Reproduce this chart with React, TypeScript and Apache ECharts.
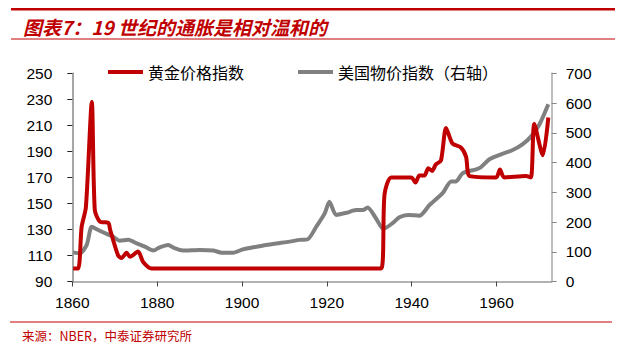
import React, { useEffect, useRef } from "react";
import * as echarts from "echarts";

// 黄金价格指数 (left axis)
const goldYears = [1860.2, 1861.4, 1862.2, 1863.2, 1864.6, 1865.3, 1866.5, 1868.5, 1868.9, 1870.8, 1871.6, 1872.8, 1873.6, 1875.5, 1876.7, 1878.7, 1900, 1932.8, 1933.6, 1935.2, 1939.9, 1940.9, 1941.8, 1943.0, 1943.9, 1944.8, 1945.7, 1946.9, 1948.1, 1949.6, 1951.6, 1952.8, 1953.7, 1959.9, 1960.8, 1961.8, 1966.9, 1968.1, 1968.9, 1970.9, 1972.2];
const goldValues = [100, 100, 132, 147, 228, 145, 136, 135, 130, 110, 108, 112, 109, 113, 105, 100, 100, 100, 157, 170, 170, 166, 171.5, 171.5, 177, 175, 180, 183, 208, 196, 193, 186, 171, 170, 176, 170, 171, 170, 211, 187, 216];

// 美国物价指数 (right axis)
const cpiYears = [1860.2, 1861.8, 1863.4, 1864.6, 1866.1, 1868.1, 1869.6, 1871.2, 1873.2, 1875.2, 1877.1, 1879.1, 1880.6, 1882.6, 1884.1, 1886.1, 1890.0, 1893.2, 1895.2, 1897.9, 1900.2, 1903.4, 1905.7, 1908.1, 1911.2, 1913.6, 1915.5, 1917.5, 1919.5, 1920.6, 1922.2, 1924.6, 1926.9, 1928.5, 1929.6, 1931.6, 1933.3, 1935.5, 1937.1, 1939.1, 1941.8, 1944.2, 1947.3, 1949.3, 1950.4, 1952.0, 1955.2, 1956.3, 1958.3, 1960.6, 1963.8, 1966.1, 1968.1, 1970.1, 1972.2];
const cpiValues = [98, 95, 123, 184, 173, 160, 151, 137, 140, 128, 117, 104, 115, 123, 112, 104, 106, 104, 97, 97, 108, 117, 123, 128, 134, 140, 142, 184, 229, 268, 224, 231, 240, 240, 249, 212, 177, 196, 216, 224, 221, 257, 297, 336, 336, 364, 377, 384, 411, 425, 442, 461, 487, 528, 596];

const leftTicks = { min: 90, max: 250, interval: 20 };
const rightTicks = { min: 0, max: 700, interval: 100 };
const xTicks = { min: 1860, max: 1973, interval: 20 };

const TITLE = "图表7：19 世纪的通胀是相对温和的";
const SOURCE = "来源：NBER，中泰证券研究所";
const NAME_GOLD = "黄金价格指数";
const NAME_CPI = "美国物价指数（右轴）";

const RED = "#C00000";
const GREY = "#808080";
const NUM_FONT = "'Liberation Sans', Arial, sans-serif";
const CJK_FONT = "'Noto Sans CJK SC', sans-serif";

export default function App() {
  const ref = useRef<HTMLDivElement>(null);
  useEffect(() => {
    if (!ref.current) return;
    const chart = echarts.init(ref.current, null, { renderer: "svg" });
    const gold = goldYears.map((y, i) => [y, goldValues[i]]);
    const cpi = cpiYears.map((y, i) => [y, cpiValues[i]]);
    const axisLabel = { color: "#000", fontSize: 15.5, fontFamily: NUM_FONT };
    chart.setOption({
      animation: false,
      backgroundColor: "#fff",
      grid: { left: 72.3, right: 74.3, top: 73.3, bottom: 72.5, containLabel: false },
      legend: {
        left: 103,
        top: 59,
        itemWidth: 35,
        itemHeight: 4,
        itemGap: 54,
        icon: "rect",
        textStyle: { fontSize: 16, fontFamily: CJK_FONT, color: "#000" },
        data: [NAME_GOLD, NAME_CPI],
      },
      xAxis: {
        type: "value",
        min: xTicks.min,
        max: xTicks.max,
        interval: xTicks.interval,
        splitLine: { show: false },
        axisLine: { lineStyle: { color: "#999", width: 1.5 } },
        axisTick: { length: 5, lineStyle: { color: "#444" } },
        axisLabel: { ...axisLabel, margin: 13, showMaxLabel: false, formatter: (v: number) => String(v) },
      },
      yAxis: [
        {
          type: "value",
          min: leftTicks.min,
          max: leftTicks.max,
          interval: leftTicks.interval,
          splitLine: { show: false },
          axisLine: { show: true, lineStyle: { color: "#888", width: 1.5 } },
          axisTick: { show: true, length: 5, lineStyle: { color: "#222" } },
          axisLabel: { ...axisLabel, margin: 20 },
        },
        {
          type: "value",
          position: "right",
          min: rightTicks.min,
          max: rightTicks.max,
          interval: rightTicks.interval,
          splitLine: { show: false },
          axisLine: { show: true, lineStyle: { color: "#aaa", width: 1.5 } },
          axisTick: { show: true, length: 5, lineStyle: { color: "#888" } },
          axisLabel: { ...axisLabel, margin: 14 },
        },
      ],
      series: [
        {
          name: NAME_CPI,
          type: "line",
          yAxisIndex: 1,
          data: cpi,
          showSymbol: false,
          smooth: 0.25,
          lineStyle: { color: GREY, width: 4 },
          itemStyle: { color: GREY },
          z: 2,
        },
        {
          name: NAME_GOLD,
          type: "line",
          yAxisIndex: 0,
          data: gold,
          showSymbol: false,
          smooth: 0.25,
          lineStyle: { color: RED, width: 4 },
          itemStyle: { color: RED },
          z: 3,
        },
      ],
      graphic: [
        { type: "rect", shape: { x: 11, y: 8, width: 604, height: 2.5 }, style: { fill: RED } },
        { type: "line", shape: { x1: 11, y1: 39, x2: 615, y2: 39 }, style: { stroke: RED, lineWidth: 1 } },
        {
          type: "text",
          x: 23,
          y: 26,
          style: {
            text: TITLE,
            fill: RED,
            font: `italic bold 19px ${CJK_FONT}`,
            verticalAlign: "middle",
          },
        },
        { type: "line", shape: { x1: 10, y1: 322, x2: 612, y2: 322 }, style: { stroke: RED, lineWidth: 1 } },
        {
          type: "text",
          x: 22,
          y: 335,
          style: {
            text: SOURCE,
            fill: RED,
            font: `12.5px ${CJK_FONT}`,
            verticalAlign: "middle",
          },
        },
      ],
    });
    return () => chart.dispose();
  }, []);
  return <div ref={ref} style={{ width: 626, height: 354, position: "absolute", left: 0, top: 0 }} />;
}
